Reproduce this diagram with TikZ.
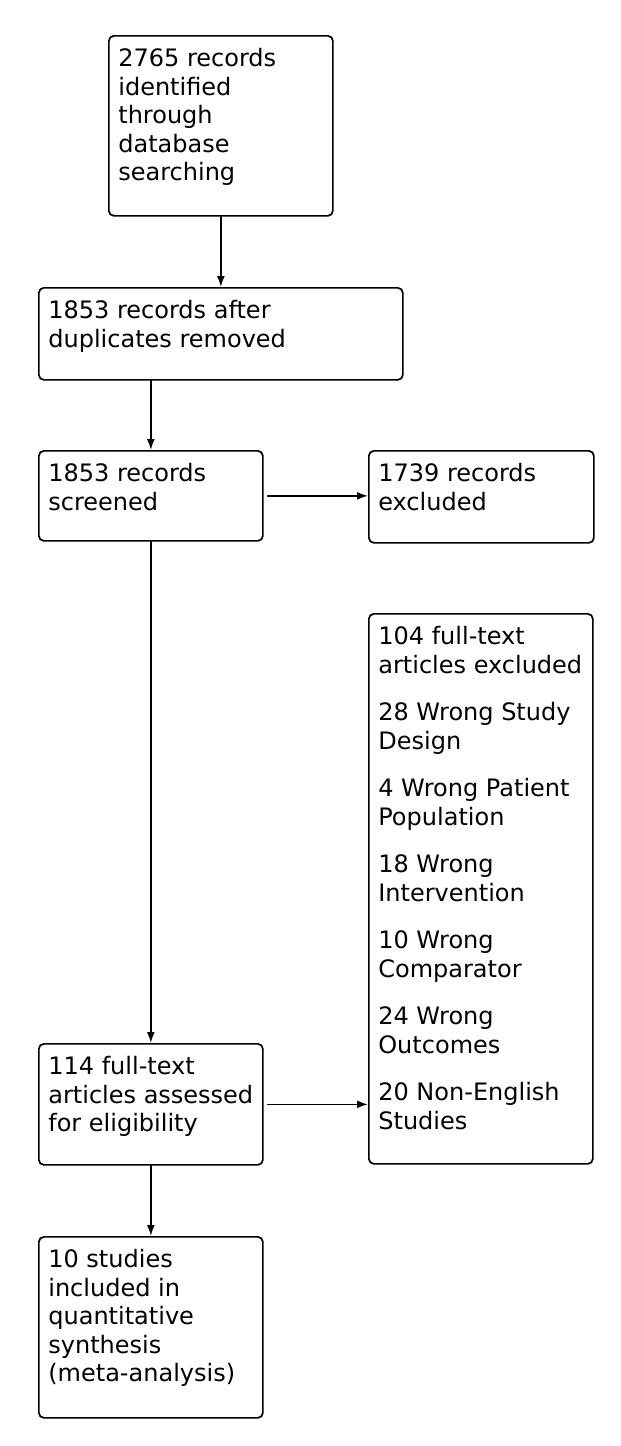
\documentclass[tikz,border=0pt]{standalone}
\usepackage{fontspec}
\setmainfont{DejaVu Sans}
\usetikzlibrary{arrows.meta}
\newcommand{\boxtext}[3]{\parbox[t][#2][t]{#1}{\raggedright\parskip=9.5pt\strut #3}}
\begin{document}
\begin{tikzpicture}[x=0.5pt, y=-0.5pt, line join=round, line cap=round, line width=0.85pt, >={Latex[length=5.5pt,width=4pt]},
	stage/.style={draw, rounded corners=2.5pt, anchor=north west, inner xsep=4.75pt, inner ysep=5.5pt, font=\fontsize{12}{14.25}\selectfont}]
			\useasboundingbox (0,0) rectangle (621,1446);
			\path
			(108,35) node[stage] (ident) {\boxtext{102.5pt}{79pt}{2765 records\\ identified\\ through\\ database\\ searching}}
			(38,287) node[stage] (dedup) {\boxtext{172.5pt}{35pt}{1853 records after\\ duplicates removed}}
			(38,450) node[stage] (screened) {\boxtext{102.5pt}{34pt}{1853 records\\ screened}}
			(368,450) node[stage] (excl) {\boxtext{103pt}{35pt}{1739 records\\ excluded}}
			(368,613) node[stage] (ftexcl) {\boxtext{102.5pt}{264pt}{104 full-text\\ articles excluded\par
				28 Wrong Study\\ Design\par
				4 Wrong Patient\\ Population\par
				18 Wrong\\ Intervention\par
				10 Wrong\\ Comparator\par
				24 Wrong\\ Outcomes\par
				20 Non-English\\ Studies}}
			(38,1043) node[stage] (fulltext) {\boxtext{102.5pt}{49.5pt}{114 full-text\\ articles assessed\\ for eligibility}}
			(38,1236) node[stage] (incl) {\boxtext{102.5pt}{79.5pt}{10 studies\\ included in\\ quantitative\\ synthesis\\ (meta-analysis)}}
			;
			\draw[->] (dedup.south -| screened.north)--(screened.north);
			\foreach \p/\q in {ident/dedup,screened/fulltext,fulltext/incl}
			\draw[->] (\p.south)--(\q.north);
			\foreach \p/\q in {screened/excl,fulltext/ftexcl}
			\draw[->, shorten <=2pt] (\p.east)--(\p.east -| \q.west);
			\end{tikzpicture}
\end{document}
